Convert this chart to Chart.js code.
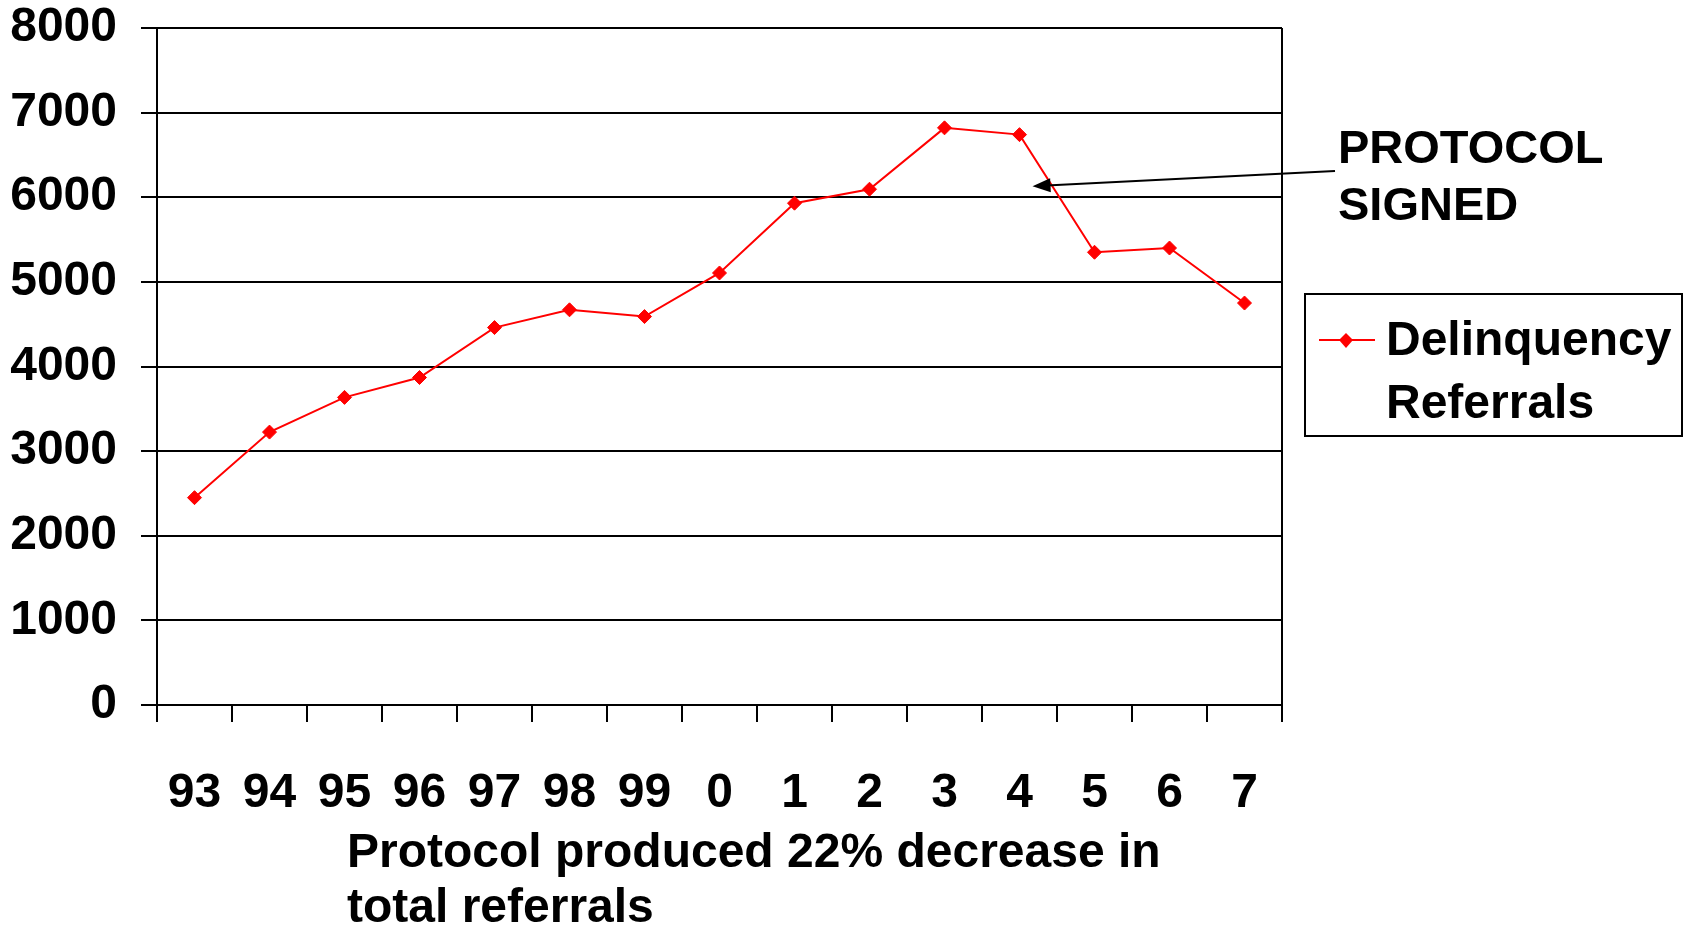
<!DOCTYPE html>
<html>
<head>
<meta charset="utf-8">
<script src="https://cdn.jsdelivr.net/npm/chart.js@4/dist/chart.umd.min.js"></script>
<style>
  html, body { margin: 0; padding: 0; background: #fff; }
  canvas { display: block; }
</style>
</head>
<body>
<canvas id="myChart" width="1685" height="929"></canvas>
<script>
// values
var years = ["93", "94", "95", "96", "97", "98", "99", "0", "1", "2", "3", "4", "5", "6", "7"]
var referrals = [2450, 3225, 3635, 3870, 4460, 4670, 4590, 5105, 5930, 6095, 6820, 6740, 5350, 5400, 4750]
var seriesLabel = ["Delinquency", "Referrals"]
var noteText = ["PROTOCOL", "SIGNED"]
var captionText = ["Protocol produced 22% decrease in", "total referrals"]
var yMin = 0, yMax = 8000, yStep = 1000

var FONT = '"Liberation Sans", Arial, Helvetica, sans-serif'
var RED = "#ff0000"

Chart.defaults.font.family = FONT
Chart.defaults.color = "#000"

// legend box, arrow note and caption drawn on top of the chart
var extras = {
    id: "extras",
    afterDraw: function(chart) {
        var ctx = chart.ctx
        var area = chart.chartArea
        var x = chart.scales.x
        var y = chart.scales.y
        ctx.save()

        // right border of plot
        ctx.strokeStyle = "#000"
        ctx.lineWidth = 2
        ctx.beginPath()
        ctx.moveTo(area.right, area.top)
        ctx.lineTo(area.right, area.bottom)
        ctx.stroke()

        // arrow pointing at year 4
        var tipX = x.getPixelForValue(11) + 13
        var tipY = y.getPixelForValue(6130)
        var fromX = area.right + 53, fromY = 171
        var ang = Math.atan2(fromY - tipY, fromX - tipX)
        ctx.beginPath()
        ctx.moveTo(fromX, fromY)
        ctx.lineTo(tipX + Math.cos(ang) * 14, tipY + Math.sin(ang) * 14)
        ctx.stroke()
        ctx.fillStyle = "#000"
        ctx.beginPath()
        ctx.moveTo(tipX, tipY)
        ctx.lineTo(tipX + Math.cos(ang) * 18 - Math.sin(ang) * 7, tipY + Math.sin(ang) * 18 + Math.cos(ang) * 7)
        ctx.lineTo(tipX + Math.cos(ang) * 18 + Math.sin(ang) * 7, tipY + Math.sin(ang) * 18 - Math.cos(ang) * 7)
        ctx.closePath()
        ctx.fill()

        ctx.textAlign = "left"
        ctx.textBaseline = "alphabetic"
        ctx.font = "bold 47px " + FONT
        ctx.fillText(noteText[0], area.right + 56, 163)
        ctx.fillText(noteText[1], area.right + 56, 220)

        // legend
        var lx = area.right + 23, ly = 294
        ctx.lineWidth = 2
        ctx.strokeRect(lx, ly, 377, 142)
        var ds = chart.data.datasets[0]
        ctx.strokeStyle = ds.borderColor
        ctx.beginPath()
        ctx.moveTo(lx + 14, 340)
        ctx.lineTo(lx + 70, 340)
        ctx.stroke()
        ctx.fillStyle = ds.pointBackgroundColor
        ctx.beginPath()
        ctx.moveTo(lx + 41, 333)
        ctx.lineTo(lx + 48, 340)
        ctx.lineTo(lx + 41, 348)
        ctx.lineTo(lx + 34, 340)
        ctx.closePath()
        ctx.fill()
        ctx.fillStyle = "#000"
        ctx.font = "bold 48px " + FONT
        ctx.fillText(seriesLabel[0], lx + 81, 355)
        ctx.fillText(seriesLabel[1], lx + 81, 418)

        // caption under the axis
        ctx.font = "bold 48px " + FONT
        ctx.fillText(captionText[0], 347, 867)
        ctx.fillText(captionText[1], 347, 922)

        ctx.restore()
    }
}

var chart = new Chart(document.getElementById("myChart").getContext("2d"), {
    type: "line",
    data: {
        labels: years,
        datasets: [{
            label: seriesLabel.join(" "),
            data: referrals,
            borderColor: RED,
            backgroundColor: RED,
            borderWidth: 2,
            pointStyle: "rectRot",
            pointRadius: 7,
            pointBackgroundColor: RED,
            pointBorderColor: RED,
            pointBorderWidth: 1,
            tension: 0
        }]
    },
    options: {
        responsive: false,
        animation: false,
        layout: { padding: { top: 28, right: 403, bottom: 0, left: 0 } },
        plugins: {
            legend: { display: false },
            tooltip: { enabled: false }
        },
        scales: {
            x: {
                type: "category",
                offset: true,
                afterFit: function(s) { s.height = 224; s.paddingLeft = 0; s.paddingRight = 0 },
                grid: { offset: true, drawOnChartArea: false, color: "#000", lineWidth: 2, tickLength: 17 },
                border: { color: "#000", width: 2 },
                ticks: { color: "#000", font: { size: 48, weight: "bold" }, padding: 43, maxRotation: 0, autoSkip: false }
            },
            y: {
                min: yMin,
                max: yMax,
                afterFit: function(s) { s.width = 157; s.paddingTop = 0; s.paddingBottom = 0 },
                grid: { color: "#000", lineWidth: 2, tickLength: 16 },
                border: { color: "#000", width: 2 },
                ticks: {
                    stepSize: yStep, color: "#000", font: { size: 48, weight: "bold" }, padding: 24,
                    callback: function(v) { return String(v) }
                }
            }
        }
    },
    plugins: [extras]
})
</script>
</body>
</html>
